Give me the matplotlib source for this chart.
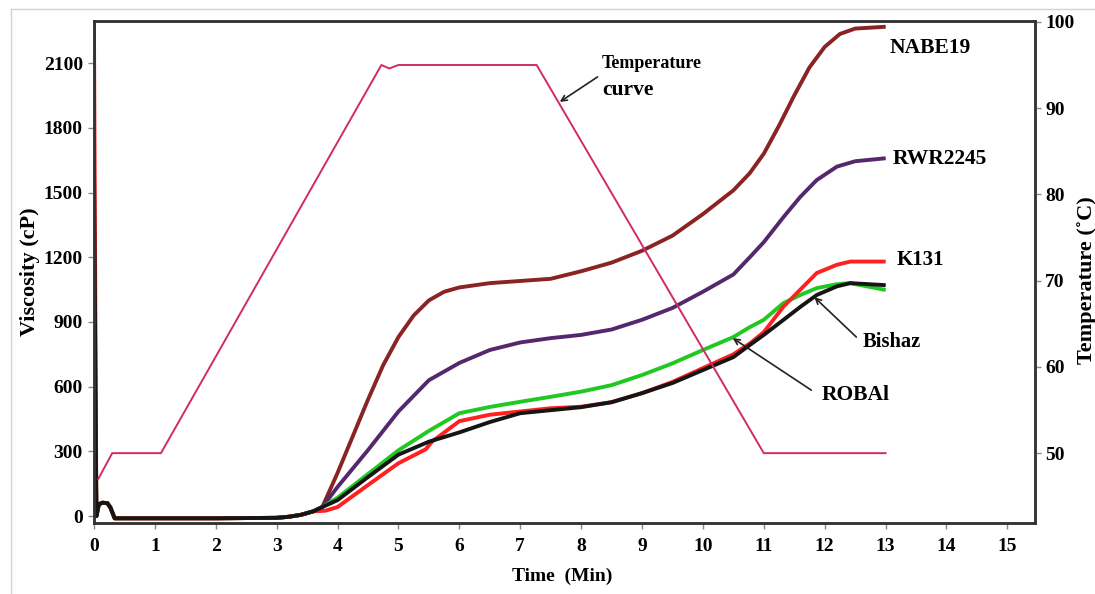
import numpy as np
import matplotlib
matplotlib.use("Agg")
import matplotlib.pyplot as plt
from matplotlib.lines import Line2D

plt.rcParams["font.family"] = ["Liberation Serif", "DejaVu Serif"]
plt.rcParams["font.weight"] = "bold"

# early part shared by every sample (spike, hump, flat baseline, onset)
t_start = [0.0, 0.04, 0.08, 0.14, 0.22, 0.27, 0.34, 0.5, 1.0, 2.0, 3.0, 3.2, 3.4, 3.6]
v_start = [0, 0, 55, 62, 60, 40, -10, -10, -10, -10, -8, -3, 6, 22]
spike = {"NABE19": 1000, "RWR2245": 1050, "K131": 2265, "ROBAl": 1200, "Bishaz": 1650}

# later part
t_nabe = [3.75, 4.0, 4.25, 4.5, 4.75, 5.0, 5.25, 5.5, 5.75, 6.0, 6.5, 7.0, 7.5, 8.0, 8.5,
          9.0, 9.5, 10.0, 10.5, 10.77, 11.0, 11.25, 11.5, 11.75, 12.0, 12.25, 12.5, 12.97]
v_nabe = [42, 200, 370, 540, 700, 830, 930, 1000, 1040, 1060, 1080, 1090, 1100, 1135, 1175,
          1230, 1300, 1400, 1510, 1590, 1680, 1810, 1950, 2080, 2175, 2235, 2260, 2268]

t_rwr = [3.75, 4.0, 4.5, 5.0, 5.5, 6.0, 6.5, 7.0, 7.5, 8.0, 8.5, 9.0, 9.5, 10.0, 10.5,
         10.77, 11.0, 11.32, 11.6, 11.87, 12.2, 12.5, 12.97]
v_rwr = [42, 135, 306, 485, 630, 710, 770, 805, 825, 840, 865, 910, 965, 1040, 1120,
         1200, 1270, 1385, 1480, 1558, 1620, 1645, 1658]

t_k131 = [3.8, 4.0, 4.5, 5.0, 5.45, 5.55, 6.0, 6.5, 7.0, 7.5, 8.0, 8.5, 9.0, 9.5, 10.0,
          10.5, 10.77, 11.0, 11.32, 11.6, 11.87, 12.2, 12.42, 12.97]
v_k131 = [25, 42, 144, 245, 310, 345, 440, 470, 485, 500, 507, 528, 570, 622, 686,
          750, 800, 853, 970, 1050, 1127, 1165, 1180, 1180]

t_roba = [3.75, 4.0, 4.5, 5.0, 5.5, 6.0, 6.5, 7.0, 7.5, 8.0, 8.5, 9.0, 9.5, 10.0, 10.5,
          10.77, 11.0, 11.32, 11.6, 11.87, 12.2, 12.42, 12.97]
v_roba = [42, 85, 195, 305, 395, 477, 506, 530, 553, 577, 607, 654, 708, 770, 830,
          876, 910, 987, 1025, 1057, 1075, 1080, 1050]

t_bish = [3.75, 4.0, 4.5, 5.0, 5.5, 6.0, 6.5, 7.0, 7.5, 8.0, 8.5, 9.0, 9.5, 10.0, 10.5,
          10.77, 11.0, 11.32, 11.6, 11.87, 12.2, 12.42, 12.97]
v_bish = [42, 74, 181, 285, 345, 388, 436, 477, 491, 505, 528, 570, 617, 677, 737,
          793, 840, 909, 970, 1025, 1065, 1080, 1071]

t_temp = [0.07, 0.3, 1.1, 4.72, 4.85, 5.0, 7.27, 11.0, 13.0]
temp = [47, 50, 50, 95, 94.6, 95, 95, 50, 50]

series = [
    ("NABE19", t_nabe, v_nabe, "#8a2424"),
    ("RWR2245", t_rwr, v_rwr, "#55286e"),
    ("ROBAl", t_roba, v_roba, "#22c822"),
    ("K131", t_k131, v_k131, "#ff2020"),
    ("Bishaz", t_bish, v_bish, "#151515"),
]

fig = plt.figure(figsize=(10.95, 5.94), dpi=100)
ax = fig.add_axes([0.0858, 0.1195, 0.8592, 0.8451])

for name, tt, vv, col in series:
    x = [0.0] + t_start[1:] + tt
    y = [spike[name]] + v_start[1:] + vv
    ax.plot(x, y, color=col, lw=2.8, solid_joinstyle="round")

ax.set_xlim(0, 15.45)
ax.set_ylim(-32, 2295)
ax.set_xticks(range(0, 16))
ax.set_yticks(range(0, 2101, 300))

ax2 = ax.twinx()
ax2.plot(t_temp, temp, color="#d02a6a", lw=1.4)
ax2.set_ylim(41.9, 100.1)
ax2.set_yticks(range(50, 101, 10))

for a in (ax, ax2):
    for s in a.spines.values():
        s.set_linewidth(1.8)
        s.set_color("#333333")
    a.tick_params(labelsize=14, length=4, width=1, color="#888888")
ax.tick_params(axis="x", pad=7)
ax.tick_params(axis="y", pad=4)

ax.set_xlabel("Time  (Min)", fontsize=14, fontweight="bold")
ax.xaxis.set_label_coords(0.498, -0.088)
ax.set_ylabel("Viscosity (cP)", fontsize=16, fontweight="bold")
ax.yaxis.set_label_coords(-0.057, 0.5)
ax2.set_ylabel("Temperature (˚C)", fontsize=16, fontweight="bold")
ax2.yaxis.set_label_coords(1.045, 0.484)

ax.text(13.06, 2170, "NABE19", fontsize=15.5, fontweight="bold", va="center")
ax.text(13.11, 1655, "RWR2245", fontsize=15.5, fontweight="bold", va="center")
ax.text(13.18, 1187, "K131", fontsize=15, fontweight="bold", va="center")

arrow = dict(arrowstyle="->", color="#222222", lw=1.2, shrinkA=0, shrinkB=0)
ax.annotate("", xy=(11.83, 1015), xytext=(12.52, 830), arrowprops=arrow)
ax.text(12.62, 807, "Bishaz", fontsize=14.8, fontweight="bold", va="center")
ax.annotate("", xy=(10.49, 825), xytext=(11.78, 584), arrowprops=arrow)
ax.text(11.95, 561, "ROBAl", fontsize=15.5, fontweight="bold", va="center")
ax.annotate("", xy=(7.65, 1920), xytext=(8.27, 2036), arrowprops=arrow)
ax.text(8.34, 2096, "Temperature", fontsize=13, fontweight="bold", va="center")
ax.text(8.34, 1975, "curve", fontsize=15.5, fontweight="bold", va="center")

# faint frame around the pasted picture
fig.add_artist(Line2D([0.010, 0.010], [0.0, 0.985], color="#cdd2de", lw=1, transform=fig.transFigure))
fig.add_artist(Line2D([0.010, 1.0], [0.985, 0.985], color="#cdd2de", lw=1, transform=fig.transFigure))

fig.savefig("out.png", dpi=100)
